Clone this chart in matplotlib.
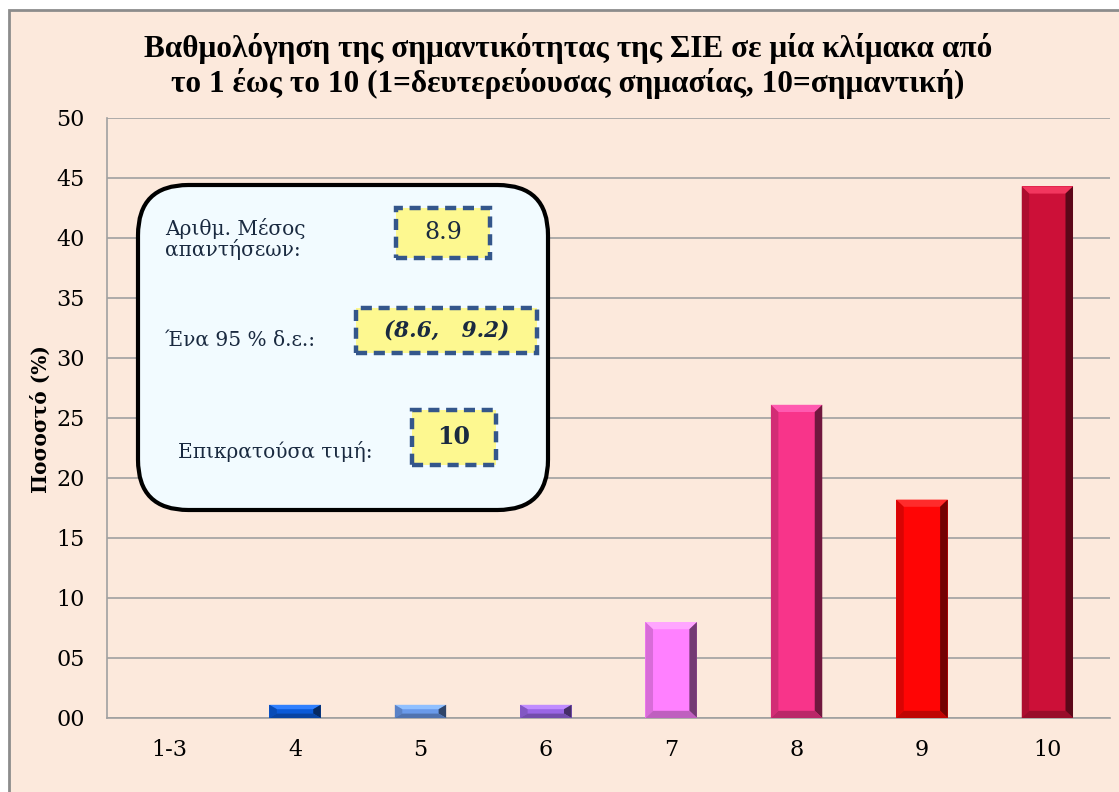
import matplotlib.pyplot as plt
import matplotlib.colors as mcolors
from matplotlib.patches import Rectangle, FancyBboxPatch, Polygon

categories = ['1-3', '4', '5', '6', '7', '8', '9', '10']
percent = [0, 1.1, 1.1, 1.1, 8.0, 26.1, 18.2, 44.3]
bar_colors = ['#3070d0', '#0a5ad8', '#6a9aea', '#9a66e6', '#ff80ff',
              '#f8348a', '#ff0505', '#cc1038']
yticks = [0, 5, 10, 15, 20, 25, 30, 35, 40, 45, 50]

title = ('Βαθμολόγηση της σημαντικότητας της ΣΙΕ σε μία κλίμακα από\n'
         'το 1 έως το 10 (1=δευτερεύουσας σημασίας, 10=σημαντική)')
ylabel = 'Ποσοστό (%)'
mean_label = 'Αριθμ. Μέσος\nαπαντήσεων:'
mean_value = '8.9'
ci_label = 'Ένα 95 % δ.ε.:'
ci_value = '(8.6,   9.2)'
mode_label = 'Επικρατούσα τιμή:'
mode_value = '10'

W, H = 1119, 792
serif = ['Liberation Serif', 'DejaVu Serif']
dserif = ['DejaVu Serif']
navy = '#1a2a40'


def px(x, y):
    return x / W, 1 - y / H


fig = plt.figure(figsize=(W / 100, H / 100), dpi=100, facecolor='white')

# chart area background with grey frame
fig.patches.append(Rectangle(px(9, 800), (W + 20) / W, 790 / H,
                             transform=fig.transFigure, facecolor='#fce9dc',
                             edgecolor='#8c8c8c', lw=2, zorder=-5))

x0, y0 = px(107, 718)
x1, y1 = px(1110, 118)
ax = fig.add_axes([x0, y0, x1 - x0, y1 - y0])
ax.set_facecolor('none')

bars = ax.bar(range(len(categories)), percent, width=0.41,
              color=bar_colors, zorder=3)

# simple bevel shading on each bar
for b, c in zip(bars, bar_colors):
    bx, by, bw, bh = b.get_x(), b.get_y(), b.get_width(), b.get_height()
    if bh <= 0:
        continue
    dx = min(0.06, bw / 4)
    dy = min(0.6, bh / 3)
    rgb = mcolors.to_rgb(c)
    light = tuple(min(1, v + 0.15) for v in rgb)
    dark = tuple(v * 0.45 for v in rgb)
    mid = tuple(v * 0.75 for v in rgb)
    ax.add_patch(Polygon([(bx, by + bh), (bx + bw, by + bh),
                          (bx + bw - dx, by + bh - dy), (bx + dx, by + bh - dy)],
                         closed=True, facecolor=light, lw=0, zorder=4))
    ax.add_patch(Polygon([(bx + bw, by), (bx + bw, by + bh),
                          (bx + bw - dx, by + bh - dy), (bx + bw - dx, by + dy)],
                         closed=True, facecolor=dark, lw=0, zorder=4))
    ax.add_patch(Polygon([(bx, by), (bx + bw, by),
                          (bx + bw - dx, by + dy), (bx + dx, by + dy)],
                         closed=True, facecolor=mid, lw=0, zorder=4))
    ax.add_patch(Polygon([(bx, by), (bx, by + bh),
                          (bx + dx, by + bh - dy), (bx + dx, by + dy)],
                         closed=True, facecolor=mid, alpha=0.6, lw=0, zorder=4))

ax.set_xlim(-0.5, len(categories) - 0.5)
ax.set_ylim(0, 50)
ax.set_yticks(yticks)
ax.set_yticklabels([f'{v:02d}' for v in yticks])
ax.set_xticks(range(len(categories)))
ax.set_xticklabels(categories)
ax.yaxis.grid(True, color='#a0a0a0', lw=1.2, zorder=0)
ax.set_axisbelow(True)
for s in ['top', 'right']:
    ax.spines[s].set_visible(False)
for s in ['left', 'bottom']:
    ax.spines[s].set_color('#a0a0a0')
    ax.spines[s].set_linewidth(1.2)
ax.tick_params(axis='y', length=0, pad=16)
ax.tick_params(axis='x', length=0, pad=15)
for lab in ax.get_xticklabels() + ax.get_yticklabels():
    lab.set_family(dserif)
    lab.set_fontsize(16)

fig.text(*px(41, 419), ylabel, rotation=90, ha='center', va='center',
         fontsize=14.5, fontweight='bold', family=dserif)
fig.text(*px(568, 66), title, ha='center', va='center', fontsize=22.5,
         fontweight='bold', family=serif, linespacing=1.15)

# info box
bx0, by0 = px(138, 510)
bx1, by1 = px(548, 185)
fig.patches.append(FancyBboxPatch((bx0, by0), bx1 - bx0, by1 - by0,
                                  boxstyle='round,pad=0,rounding_size=0.045',
                                  mutation_aspect=W / H,
                                  transform=fig.transFigure,
                                  facecolor='#f2fbff', edgecolor='black',
                                  lw=3, zorder=5))


def value_box(l, t, r, b, text, size, **kw):
    xa, ya = px(l, b)
    xb, yb = px(r, t)
    fig.patches.append(Rectangle((xa, ya), xb - xa, yb - ya,
                                 transform=fig.transFigure,
                                 facecolor='#fdf890', edgecolor='#34568b',
                                 lw=3.2, ls=(0, (2.5, 1.5)), zorder=6))
    fig.text((xa + xb) / 2, (ya + yb) / 2, text, ha='center', va='center',
             fontsize=size, family=dserif, color=navy, zorder=7, **kw)


fig.text(*px(165, 239), mean_label, ha='left', va='center', fontsize=14.5,
         family=dserif, color=navy, linespacing=1.05, zorder=7)
fig.text(*px(165, 340), ci_label, ha='left', va='center', fontsize=14.5,
         family=dserif, color=navy, zorder=7)
fig.text(*px(178, 452), mode_label, ha='left', va='center', fontsize=14.5,
         family=dserif, color=navy, zorder=7)

value_box(396, 208, 490, 258, mean_value, 17)
value_box(356, 308, 537, 353, ci_value, 15.5, fontweight='bold', style='italic')
value_box(412, 410, 496, 465, mode_value, 17, fontweight='bold')

fig.savefig('out.png', dpi=100, facecolor='white')
